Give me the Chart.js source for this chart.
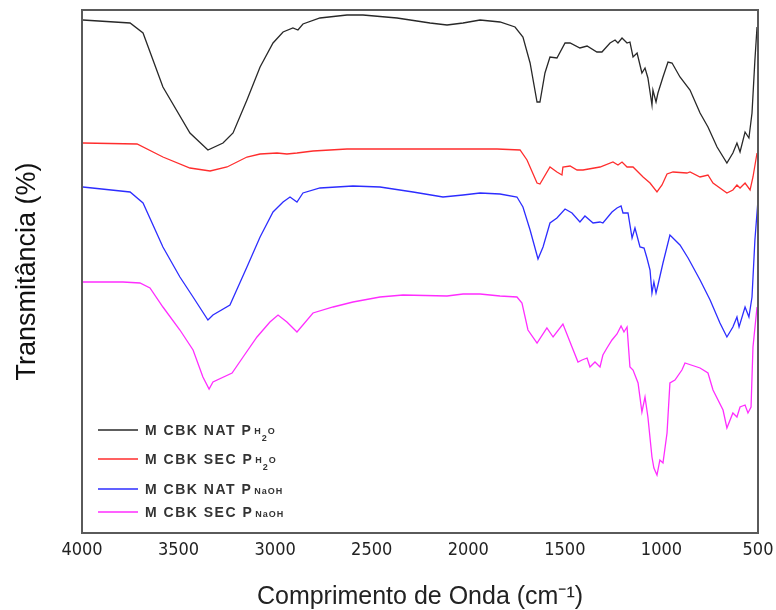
<!DOCTYPE html>
<html>
<head>
<meta charset="utf-8">
<script src="https://cdn.jsdelivr.net/npm/chart.js@4"></script>
<style>
  html, body { margin: 0; padding: 0; background: #fff; }
  #wrap { width: 776px; height: 610px; }
</style>
</head>
<body>
<div id="wrap"><canvas id="ftir-chart" width="776" height="610"></canvas></div>
<script>
// FTIR spectra, wavenumber (cm-1) vs transmittance (arbitrary, stacked)
const natH2oWave = [3996,3751,3684,3581,3441,3348,3270,3218,3146,3078,3011,2959,2908,2882,2856,2768,2628,2545,2369,2198,2110,2027,1939,1836,1758,1717,1680,1644,1629,1603,1577,1541,1499,1473,1422,1385,1334,1308,1266,1240,1225,1204,1178,1163,1147,1126,1101,1085,1070,1049,1044,1028,1018,992,966,945,904,852,800,759,712,661,630,609,593,567,547,531,516,505];
const natH2oT = [513,510,500,446,400,383,390,400,433,466,490,501,505,503,509,515,518,518,515,510,508,510,513,511,506,496,470,431,431,460,476,475,490,490,485,487,481,481,490,493,490,495,490,491,476,480,460,465,455,428,443,431,440,456,471,470,456,443,420,406,386,370,380,390,381,401,395,420,473,506];

const secH2oWave = [3996,3715,3581,3441,3337,3249,3146,3078,2990,2939,2887,2804,2628,2286,1851,1732,1696,1644,1629,1577,1541,1515,1510,1473,1437,1406,1318,1251,1225,1204,1178,1147,1095,1059,1023,997,971,940,868,852,800,759,733,661,630,609,593,567,541,526,505];
const secH2oT = [390,389,376,365,362,366,376,379,380,379,380,382,384,384,384,383,373,350,349,366,361,358,366,367,363,363,366,371,368,371,366,366,356,350,341,348,359,361,360,361,356,358,350,340,343,348,345,350,343,356,380];

const natNaohWave = [3996,3751,3684,3581,3493,3425,3348,3322,3234,3146,3078,3011,2959,2923,2887,2856,2768,2597,2457,2286,2131,2027,1939,1836,1748,1717,1680,1639,1613,1577,1541,1499,1463,1422,1396,1354,1318,1303,1256,1230,1209,1199,1173,1152,1137,1111,1090,1075,1059,1049,1039,1028,1018,992,956,904,862,800,748,697,661,630,609,598,567,547,531,516,500];
const natNaohT = [346,341,330,286,256,236,213,218,228,266,296,321,331,336,331,340,345,347,346,341,336,338,340,339,336,326,303,274,286,310,315,324,320,311,317,310,311,310,321,325,327,320,320,295,305,286,285,275,263,240,251,240,248,270,298,288,275,253,233,210,196,206,216,206,226,216,236,293,333];

const secNaohWave = [3996,3788,3700,3648,3581,3493,3425,3374,3342,3322,3223,3166,3094,3027,2985,2939,2887,2804,2700,2597,2457,2338,2110,2027,1939,1836,1748,1722,1691,1644,1593,1561,1510,1463,1432,1411,1385,1370,1344,1318,1303,1282,1256,1230,1209,1194,1178,1163,1147,1121,1101,1085,1070,1049,1039,1023,1008,992,971,956,930,894,878,800,759,733,681,661,630,609,593,567,552,536,526,505];
const secNaohT = [251,251,250,245,226,203,183,156,144,151,160,176,196,211,218,211,201,220,226,231,236,238,237,239,239,237,236,230,203,190,205,196,209,186,171,173,175,166,171,166,178,185,193,199,207,201,206,166,163,150,121,136,116,76,65,58,73,70,100,150,153,163,170,165,160,143,123,105,120,116,126,128,120,126,186,226];

const seriesNames = ['M CBK NAT P', 'M CBK SEC P', 'M CBK NAT P', 'M CBK SEC P'];
const seriesSubs = ['H2O', 'H2O', 'NaOH', 'NaOH'];
const seriesColors = ['rgb(40,40,40)', 'rgb(255,45,45)', 'rgb(45,45,255)', 'rgb(255,45,255)'];

function toPoints(xs, ys) {
  return xs.map((x, i) => ({ x: x, y: ys[i] }));
}

const spectra = [
  toPoints(natH2oWave, natH2oT),
  toPoints(secH2oWave, secH2oT),
  toPoints(natNaohWave, natNaohT),
  toPoints(secNaohWave, secNaohT)
];

// box around the plot area
const frame = {
  id: 'frame',
  afterDatasetsDraw(chart) {
    const { ctx, chartArea: a } = chart;
    ctx.save();
    ctx.strokeStyle = '#5a5a5a';
    ctx.lineWidth = 2;
    ctx.strokeRect(a.left, a.top, a.right - a.left, a.bottom - a.top);
    ctx.restore();
  }
};

// legend in the lower left, with the subscripted sample names
const subLegend = {
  id: 'subLegend',
  afterDraw(chart) {
    const ctx = chart.ctx;
    const rows = [430, 459, 489, 512];
    ctx.save();
    chart.data.datasets.forEach((ds, i) => {
      const cy = rows[i];
      ctx.strokeStyle = ds.borderColor;
      ctx.lineWidth = 1.5;
      ctx.beginPath();
      ctx.moveTo(98, cy);
      ctx.lineTo(138, cy);
      ctx.stroke();

      const base = cy + 5;
      ctx.fillStyle = '#333';
      ctx.textBaseline = 'alphabetic';
      ctx.textAlign = 'left';
      ctx.font = 'bold 14px "Liberation Sans", Arial, sans-serif';
      ctx.letterSpacing = '1.5px';
      ctx.fillText(seriesNames[i], 145, base);
      let x = 145 + ctx.measureText(seriesNames[i]).width + 2;

      ctx.font = 'bold 9px "Liberation Sans", Arial, sans-serif';
      ctx.letterSpacing = '1px';
      const sub = seriesSubs[i];
      if (sub === 'H2O') {
        ctx.fillText('H', x, base - 1);
        x += ctx.measureText('H').width;
        ctx.fillText('2', x, base + 6);
        x += ctx.measureText('2').width;
        ctx.fillText('O', x, base - 1);
      } else {
        ctx.fillText(sub, x, base);
      }
    });
    ctx.restore();
  }
};

const ctx = document.getElementById('ftir-chart').getContext('2d');
const myChart = new Chart(ctx, {
  type: 'line',
  data: {
    datasets: spectra.map((pts, i) => ({
      label: seriesNames[i] + seriesSubs[i],
      data: pts,
      borderColor: seriesColors[i],
      borderWidth: 1.3,
      pointRadius: 0,
      tension: 0,
      fill: false
    }))
  },
  options: {
    responsive: false,
    animation: false,
    layout: { padding: { top: 10, right: 18, left: 0, bottom: 0 } },
    plugins: {
      legend: { display: false },
      tooltip: { enabled: false }
    },
    scales: {
      x: {
        type: 'linear',
        reverse: true,
        min: 500,
        max: 4000,
        grid: { display: false, drawTicks: false },
        border: { display: false },
        ticks: {
          stepSize: 500,
          padding: 7,
          maxRotation: 0,
          color: '#222',
          font: { family: '"DejaVu Sans Condensed", "Liberation Sans Narrow", "Liberation Sans", Arial', size: 18 },
          callback: v => String(v)
        },
        title: {
          display: true,
          text: 'Comprimento de Onda (cm⁻¹)',
          color: '#222',
          padding: { top: 0, bottom: 0 },
          font: { family: '"Liberation Sans", Arial', size: 25, lineHeight: 1.0 }
        },
        afterFit(scale) {
          scale.height = 77;
          scale.paddingLeft = 0;
          scale.paddingRight = 0;
        }
      },
      y: {
        min: 0,
        max: 523,
        grid: { display: false, drawTicks: false },
        border: { display: false },
        ticks: { display: false },
        title: {
          display: true,
          text: 'Transmitância (%)',
          color: '#111',
          padding: { top: 11, bottom: 0 },
          font: { family: '"Liberation Sans", Arial', size: 27 }
        },
        afterFit(scale) { scale.width = 82; }
      }
    }
  },
  plugins: [frame, subLegend]
});
</script>
</body>
</html>
